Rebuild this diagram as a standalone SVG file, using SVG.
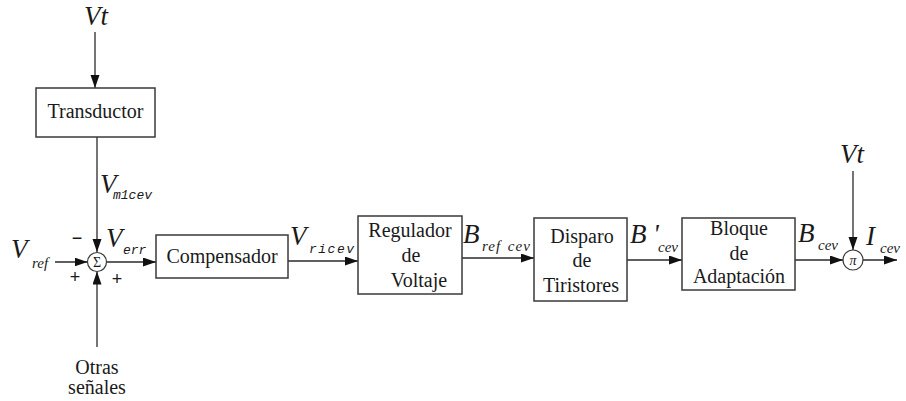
<svg xmlns="http://www.w3.org/2000/svg" width="906" height="401" viewBox="0 0 906 401">
  <style>
    .box { fill: #ffffff; stroke: #3a3a3a; stroke-width: 1.5; }
    .wire { fill: none; stroke: #2a2a2a; stroke-width: 1.3; }
    .junction { fill: #ffffff; stroke: #3a3a3a; stroke-width: 1.2; }
    .lbl { font-family: "Liberation Serif", "Times New Roman", serif; font-size: 20px; fill: #1a1a1a; text-anchor: middle; }
    .sig { font-family: "Liberation Serif", "Times New Roman", serif; font-style: italic; font-size: 27px; fill: #1a1a1a; }
    .sub { font-family: "Liberation Serif", "Times New Roman", serif; font-style: italic; font-size: 15px; fill: #1a1a1a; }
    .subm { font-family: "Liberation Mono", "Courier New", monospace; font-style: italic; font-size: 13px; fill: #1a1a1a; }
    .sign { font-family: "Liberation Sans", Arial, sans-serif; font-size: 18px; fill: #1a1a1a; text-anchor: middle; }
    .op { font-family: "Liberation Serif", "Times New Roman", serif; font-size: 14px; fill: #1a1a1a; text-anchor: middle; }
  </style>
  <defs>
    <marker id="arrow" markerUnits="userSpaceOnUse" markerWidth="13" markerHeight="10" refX="13" refY="4.5" orient="auto">
      <path d="M0,0 L13,4.5 L0,9 z" fill="#111111"/>
    </marker>
  </defs>

  <rect width="906" height="401" fill="#ffffff"/>

  <!-- connectors -->
  <g id="connectors">
    <line class="wire" x1="95" y1="32" x2="95" y2="88" marker-end="url(#arrow)"/>
    <line class="wire" x1="97" y1="137" x2="97" y2="252" marker-end="url(#arrow)"/>
    <line class="wire" x1="55" y1="262" x2="87.5" y2="262" marker-end="url(#arrow)"/>
    <line class="wire" x1="97" y1="347" x2="97" y2="271.5" marker-end="url(#arrow)"/>
    <line class="wire" x1="106.5" y1="262" x2="156" y2="262" marker-end="url(#arrow)"/>
    <line class="wire" x1="288" y1="261" x2="358" y2="261" marker-end="url(#arrow)"/>
    <line class="wire" x1="462" y1="258" x2="534" y2="258" marker-end="url(#arrow)"/>
    <line class="wire" x1="627" y1="260" x2="682" y2="260" marker-end="url(#arrow)"/>
    <line class="wire" x1="795" y1="260" x2="843" y2="260" marker-end="url(#arrow)"/>
    <line class="wire" x1="853" y1="171" x2="853" y2="250" marker-end="url(#arrow)"/>
    <line class="wire" x1="863" y1="260" x2="897" y2="260" marker-end="url(#arrow)"/>
  </g>

  <!-- input Vt (top left) -->
  <g id="vt_in">
    <text class="sig" x="84" y="25">Vt</text>
  </g>

  <!-- transducer block -->
  <g id="transductor">
    <rect class="box" x="36" y="88" width="119" height="49"/>
    <text class="lbl" x="95.5" y="118">Transductor</text>
  </g>

  <!-- measured voltage label -->
  <g id="vm1cev">
    <text class="sig" x="100" y="193">V</text>
    <text class="subm" x="113" y="199">m1cev</text>
  </g>

  <!-- reference input -->
  <g id="vref">
    <text class="sig" x="11" y="258">V</text>
    <text class="sub" x="32" y="268">ref</text>
  </g>

  <!-- summing junction -->
  <g id="sum">
    <circle class="junction" cx="97" cy="262" r="9.5"/>
    <text class="op" x="97" y="267">Σ</text>
    <text class="sign" x="77" y="244">−</text>
    <text class="sign" x="75" y="283">+</text>
    <text class="sign" x="117" y="285">+</text>
  </g>

  <!-- error signal label -->
  <g id="verr">
    <text class="sig" x="106" y="247">V</text>
    <text class="subm" x="123" y="254">err</text>
  </g>

  <!-- other signals input -->
  <g id="otras">
    <text class="lbl" x="97" y="374">Otras</text>
    <text class="lbl" x="97" y="394">señales</text>
  </g>

  <!-- compensator block -->
  <g id="compensador">
    <rect class="box" x="156" y="235" width="132" height="43"/>
    <text class="lbl" x="222" y="263">Compensador</text>
  </g>

  <g id="vricev">
    <text class="sig" x="290" y="245">V</text>
    <text class="subm" x="309" y="253" letter-spacing="1.5">ricev</text>
  </g>

  <!-- voltage regulator block -->
  <g id="regulador">
    <rect class="box" x="358" y="216" width="104" height="78"/>
    <text class="lbl" x="410" y="237">Regulador</text>
    <text class="lbl" x="411" y="262">de</text>
    <text class="lbl" x="419" y="287">Voltaje</text>
  </g>

  <g id="brefcev">
    <text class="sig" x="463" y="243">B</text>
    <text class="sub" x="482" y="251" letter-spacing="1" word-spacing="2">ref cev</text>
  </g>

  <!-- thyristor firing block -->
  <g id="disparo">
    <rect class="box" x="534" y="218" width="93" height="83"/>
    <text class="lbl" x="582" y="243">Disparo</text>
    <text class="lbl" x="582" y="267">de</text>
    <text class="lbl" x="581" y="292">Tiristores</text>
  </g>

  <g id="bpcev">
    <text class="sig" x="630" y="243">B</text>
    <text class="sig" x="653" y="243" font-size="20">'</text>
    <text class="sub" x="658" y="252">cev</text>
  </g>

  <!-- adaptation block -->
  <g id="bloque">
    <rect class="box" x="682" y="218" width="113" height="72"/>
    <text class="lbl" x="739" y="235">Bloque</text>
    <text class="lbl" x="739" y="260">de</text>
    <text class="lbl" x="739" y="283">Adaptación</text>
  </g>

  <g id="bcev">
    <text class="sig" x="798" y="242">B</text>
    <text class="sub" x="818" y="250">cev</text>
  </g>

  <!-- right Vt input -->
  <g id="vt_right">
    <text class="sig" x="840" y="163">Vt</text>
  </g>

  <!-- multiplier -->
  <g id="mult">
    <circle class="junction" cx="853" cy="260" r="10"/>
    <text class="op" x="853" y="265" font-style="italic">π</text>
  </g>

  <g id="icev">
    <text class="sig" x="866" y="245">I</text>
    <text class="sub" x="880" y="253">cev</text>
  </g>
</svg>
